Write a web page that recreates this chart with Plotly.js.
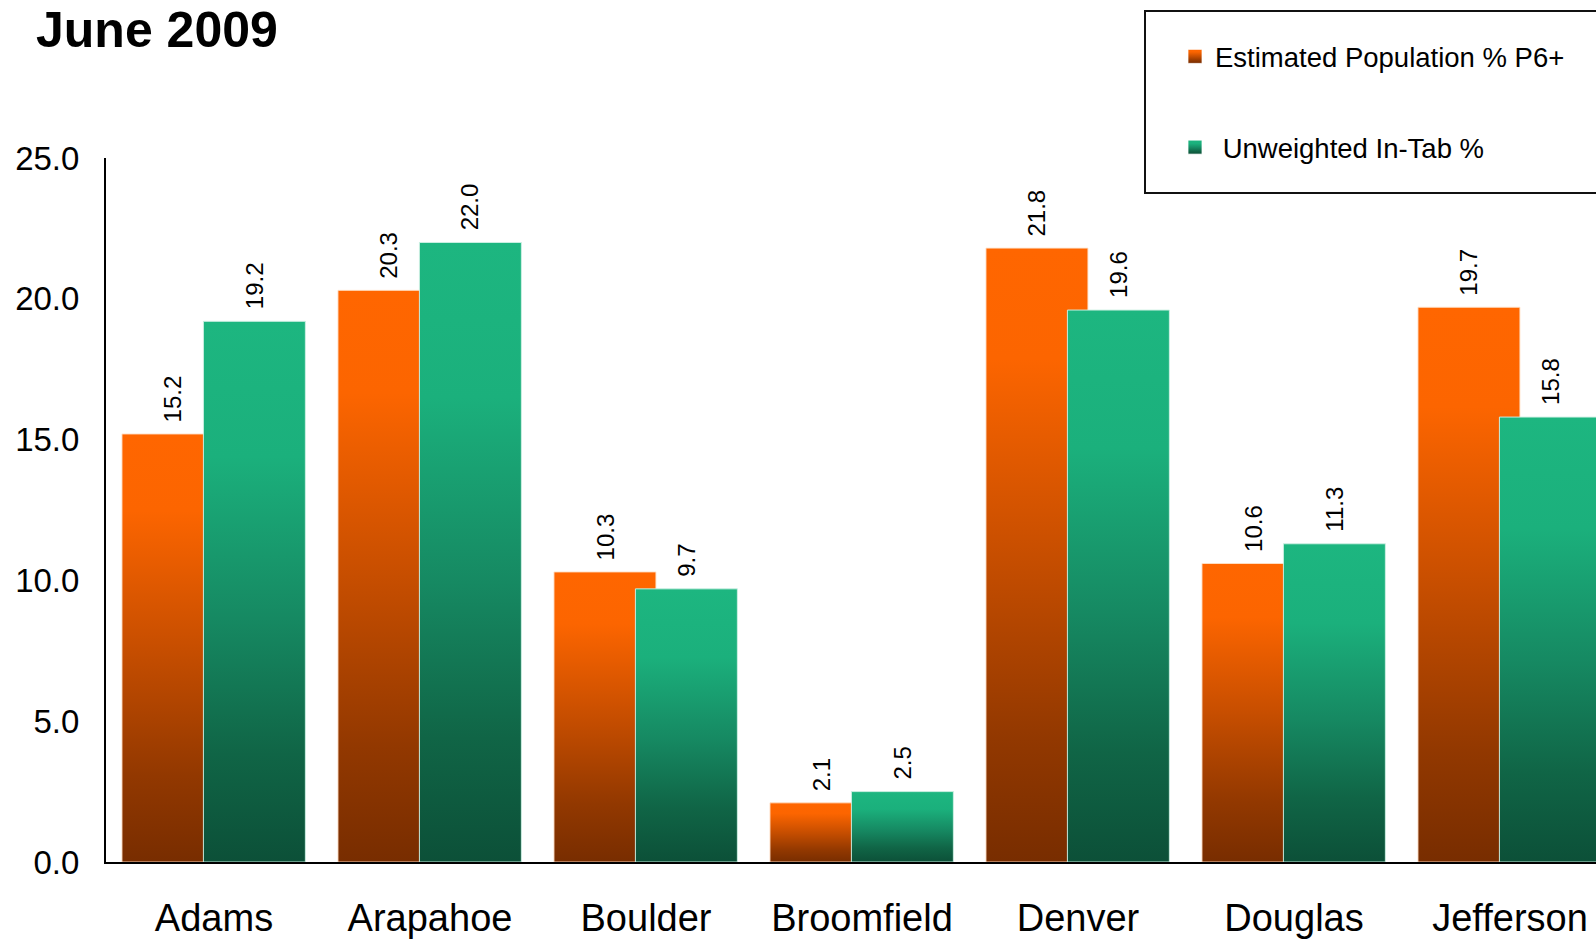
<!DOCTYPE html>
<html>
<head>
<meta charset="utf-8">
<script src="https://cdn.plot.ly/plotly-3.0.1.min.js"></script>
<style>
  html, body { margin: 0; padding: 0; overflow: hidden; background: #fff; }
  #chart { width: 1700px; height: 940px; }
</style>
</head>
<body>
<div id="chart"></div>
<script>
// ---- data ----
const categories = ["Adams", "Arapahoe", "Boulder", "Broomfield", "Denver", "Douglas", "Jefferson"];
const estimatedPop = [15.2, 20.3, 10.3, 2.1, 21.8, 10.6, 19.7];
const unweightedInTab = [19.2, 22.0, 9.7, 2.5, 19.6, 11.3, 15.8];
const seriesNames = ["Estimated Population % P6+", "\u00a0Unweighted In-Tab %"];
const yTicks = [0, 5, 10, 15, 20, 25];
const titleText = "June 2009";

// ---- geometry / style ----
const W = 1700, H = 940;
const mL = 106, mT = 158, mB = 78;
const plotW = 1512, plotH = H - mT - mB;
const mR = W - mL - plotW;
const FONT = "Liberation Sans, Arial, Helvetica, sans-serif";
const barW = 0.472;
const offO = -0.426, offG = -0.049;
const px2x = px => (px - mL) / plotW;
const py2y = py => (H - mB - py) / plotH;

const traces = [
  {
    type: "bar", name: seriesNames[0], x: categories, y: estimatedPop,
    width: barW, offset: offO, legendgroup: "a",
    marker: { color: "#ff6600", line: { color: "rgba(255,225,200,0.9)", width: 1 } },
    hoverinfo: "skip"
  },
  {
    type: "bar", name: seriesNames[1], x: categories, y: unweightedInTab,
    width: barW, offset: offG, legendgroup: "b",
    marker: { color: "#1db47f", line: { color: "rgba(205,240,228,0.95)", width: 1 } },
    hoverinfo: "skip"
  }
];

const annotations = [];
categories.forEach((c, i) => {
  [[estimatedPop, offO], [unweightedInTab, offG]].forEach(([arr, off]) => {
    annotations.push({
      x: i + off + barW / 2, y: arr[i], xref: "x", yref: "y",
      text: arr[i].toFixed(1), showarrow: false, textangle: -90,
      xanchor: "center", yanchor: "bottom", yshift: 10,
      font: { family: FONT, size: 24, color: "#000" }
    });
  });
});
annotations.push({
  xref: "paper", yref: "paper", x: px2x(34), y: py2y(60),
  xanchor: "left", yanchor: "bottom", showarrow: false,
  text: "<b>" + titleText + "</b>",
  font: { family: FONT, size: 50, color: "#000" }
});

const layout = {
  width: W, height: H,
  margin: { l: mL, r: mR, t: mT, b: mB, pad: 0 },
  paper_bgcolor: "#fff", plot_bgcolor: "#fff",
  font: { family: FONT, color: "#000" },
  barmode: "overlay",
  showlegend: true,
  legend: {
    x: px2x(1175), y: py2y(32), xanchor: "left", yanchor: "top",
    bgcolor: "rgba(0,0,0,0)", borderwidth: 0,
    font: { family: FONT, size: 27.5, color: "#000" },
    traceorder: "grouped", tracegroupgap: 52
  },
  xaxis: {
    type: "category", range: [-0.5, 6.5], fixedrange: true,
    showline: true, linecolor: "#000", linewidth: 2,
    showgrid: false, zeroline: false,
    ticks: "outside", ticklen: 21, tickcolor: "rgba(0,0,0,0)",
    tickfont: { family: FONT, size: 38, color: "#000" }
  },
  yaxis: {
    range: [0, 25], tickvals: yTicks, tickformat: ".1f", fixedrange: true,
    showline: true, linecolor: "#000", linewidth: 2,
    showgrid: false, zeroline: false,
    ticks: "outside", ticklen: 18, tickcolor: "rgba(0,0,0,0)",
    tickfont: { family: FONT, size: 33, color: "#000" }
  },
  shapes: [{
    type: "rect", xref: "paper", yref: "paper",
    x0: px2x(1145), x1: px2x(1720), y0: py2y(11), y1: py2y(193),
    line: { color: "#111", width: 2 }, fillcolor: "rgba(0,0,0,0)", layer: "above"
  }],
  annotations: annotations
};

function addGradients(gd) {
  const svg = gd.querySelector("svg.main-svg");
  const ns = "http://www.w3.org/2000/svg";
  let defs = document.createElementNS(ns, "defs");
  svg.insertBefore(defs, svg.firstChild);
  const grads = {
    gO: [[0, "#ff6600"], [0.18, "#fc6500"], [0.5, "#c74e00"], [0.8, "#923800"], [1, "#782d00"]],
    gG: [[0, "#1db680"], [0.25, "#1bb07c"], [0.55, "#168962"], [0.8, "#106546"], [1, "#0c5038"]]
  };
  Object.keys(grads).forEach(id => {
    const lg = document.createElementNS(ns, "linearGradient");
    lg.setAttribute("id", id);
    lg.setAttribute("x1", "0"); lg.setAttribute("y1", "0");
    lg.setAttribute("x2", "0"); lg.setAttribute("y2", "1");
    grads[id].forEach(([o, c]) => {
      const s = document.createElementNS(ns, "stop");
      s.setAttribute("offset", o);
      s.setAttribute("stop-color", c);
      lg.appendChild(s);
    });
    defs.appendChild(lg);
  });
  const ids = ["gO", "gG"];
  gd.querySelectorAll(".barlayer .trace").forEach((t, i) => {
    t.querySelectorAll("path").forEach(p => { p.style.fill = "url(#" + ids[i] + ")"; });
  });
  gd.querySelectorAll(".legend .traces").forEach((t, i) => {
    t.querySelectorAll(".legendpoints path").forEach(p => {
      p.setAttribute("d", "M7,7H-7V-7H7Z");
      p.style.fill = "url(#" + ids[i] + ")";
      p.style.stroke = "rgba(255,255,255,0.8)";
      p.style.strokeWidth = "1px";
    });
  });
}

Plotly.newPlot("chart", traces, layout, { staticPlot: true, displayModeBar: false })
  .then(gd => addGradients(gd));
</script>
</body>
</html>
